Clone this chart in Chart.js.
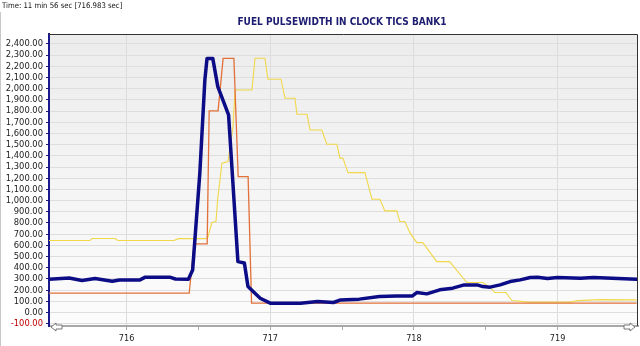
<!DOCTYPE html>
<html>
<head>
<meta charset="utf-8">
<script src="https://cdn.jsdelivr.net/npm/chart.js@4"></script>
<style>
    html, body { margin: 0; padding: 0; background: #fff; }
    #wrap { position: relative; width: 640px; height: 346px; overflow: hidden; }
    #timeLabel {
        position: absolute; left: 2px; top: 1px;
        font: 7.7px "DejaVu Sans Condensed", "DejaVu Sans", sans-serif; color: #111;
    }
    #title {
        position: absolute; left: 0; width: 684px; top: 16px; text-align: center;
        font: bold 10px "DejaVu Sans Condensed", "DejaVu Sans", sans-serif; color: #1c1c70;
    }
    #edge { position: absolute; left: 0; top: 12px; width: 1px; height: 334px; background: #c8c8c8; }
    canvas { position: absolute; left: 0; top: 0; }
</style>
</head>
<body>
<div id="wrap">
    <canvas id="chartFuel" width="640" height="346"></canvas>
    <div id="timeLabel">Time: 11 min 56 sec [716.983 sec]</div>
    <div id="title">FUEL PULSEWIDTH IN CLOCK TICS BANK1</div>
    <div id="edge"></div>
</div>
<script>
// Tempo (s) e valores
const navyTime = [715.46, 715.60, 715.69, 715.78, 715.90, 715.95, 716.09, 716.13, 716.30, 716.34, 716.43,
    716.46, 716.51, 716.545, 716.56, 716.60, 716.635, 716.71, 716.775, 716.82, 716.845, 716.93, 717.00,
    717.21, 717.33, 717.44, 717.49, 717.62, 717.76, 717.88, 717.99, 718.02, 718.09, 718.18, 718.27, 718.35,
    718.44, 718.48, 718.53, 718.60, 718.67, 718.74, 718.81, 718.86, 718.93, 719.00, 719.16, 719.25, 719.38, 719.55];
const navyValues = [298, 308, 286, 304, 280, 290, 290, 316, 316, 300, 298,
    381, 1247, 2078, 2270, 2270, 2018, 1765, 455, 443, 232, 128, 84,
    84, 98, 90, 113, 120, 143, 149, 149, 179, 167, 203, 218, 247,
    247, 232, 227, 247, 277, 292, 313, 316, 304, 313, 307, 313, 307, 298];

const orangeTime = [715.46, 716.436, 716.47, 716.561, 716.575, 716.637, 716.672, 716.747, 716.777, 716.846, 716.87, 719.55];
const orangeValues = [173, 173, 613, 613, 1801, 1801, 2270, 2270, 1214, 1214, 85, 85];

const yellowTime = [715.46, 715.745, 715.76, 715.919, 715.94, 716.33, 716.36, 716.55, 716.566, 716.594, 716.622,
    716.636, 716.664, 716.706, 716.741, 716.755, 716.873, 716.894, 716.963, 716.984, 717.075, 717.103,
    717.172, 717.186, 717.256, 717.277, 717.359, 717.394, 717.464, 717.485, 717.506, 717.541, 717.659,
    717.708, 717.763, 717.798, 717.881, 717.902, 717.937, 717.972, 718.020, 718.062, 718.159, 718.249,
    718.368, 718.480, 718.529, 718.564, 718.640, 718.682, 718.80, 719.09, 719.14, 719.30, 719.55];
const yellowValues = [643, 643, 661, 661, 643, 643, 660, 660, 673, 804, 813,
    1036, 1334, 1348, 1661, 1988, 1988, 2271, 2271, 2084, 2084, 1914,
    1914, 1771, 1771, 1631, 1631, 1503, 1503, 1379, 1379, 1250, 1250,
    1012, 1012, 908, 908, 813, 813, 714, 625, 625, 455, 455,
    268, 268, 227, 179, 179, 107, 93, 93, 107, 116, 113];

// Limites dos eixos
const xMin = 715.46, xMax = 719.56;
const yMin = -120, yMax = 2488;
const xTickLabels = [716, 717, 718, 719];

function toPoints(t, v) {
    return t.map((x, i) => ({ x: x, y: v[i] }));
}

// Fundo degradê, borda e setas da barra inferior
const framePlugin = {
    id: 'frame',
    beforeDraw(chart) {
        const { ctx, chartArea: a } = chart;
        const g = ctx.createLinearGradient(0, a.top, 0, a.bottom);
        g.addColorStop(0, '#ececec');
        g.addColorStop(1, '#fcfcfc');
        ctx.save();
        ctx.fillStyle = g;
        ctx.fillRect(a.left, a.top, a.right - a.left, a.bottom - a.top);
        ctx.restore();
    },
    afterDraw(chart) {
        const { ctx, chartArea: a } = chart;
        ctx.save();
        ctx.strokeStyle = '#333';
        ctx.lineWidth = 1;
        ctx.beginPath();
        ctx.moveTo(a.left, a.top + 0.5);
        ctx.lineTo(a.right - 0.5, a.top + 0.5);
        ctx.lineTo(a.right - 0.5, a.bottom);
        ctx.stroke();

        // setas
        const arrow = (x, dir) => {
            const y = a.bottom + 1;
            ctx.beginPath();
            ctx.moveTo(x, y);
            ctx.lineTo(x + dir * 5, y - 4);
            ctx.lineTo(x + dir * 5, y - 2);
            ctx.lineTo(x + dir * 11, y - 2);
            ctx.lineTo(x + dir * 11, y + 2);
            ctx.lineTo(x + dir * 5, y + 2);
            ctx.lineTo(x + dir * 5, y + 4);
            ctx.closePath();
            ctx.fillStyle = '#fff';
            ctx.fill();
            ctx.strokeStyle = '#777';
            ctx.stroke();
        };
        arrow(a.left + 2, 1);
        arrow(a.right - 3, -1);
        ctx.restore();
    }
};

const ctxFuel = document.getElementById('chartFuel');
new Chart(ctxFuel, {
    type: 'line',
    data: {
        datasets: [
            {
                label: 'Bank1 A',
                data: toPoints(navyTime, navyValues),
                borderColor: '#0c0c86',
                borderWidth: 3.5,
                borderJoinStyle: 'round',
                borderCapStyle: 'round'
            },
            {
                label: 'Bank1 B',
                data: toPoints(orangeTime, orangeValues),
                borderColor: '#e2703a',
                borderWidth: 1.3
            },
            {
                label: 'Bank1 C',
                data: toPoints(yellowTime, yellowValues),
                borderColor: '#f0d84a',
                borderWidth: 1.1
            }
        ]
    },
    options: {
        responsive: false,
        animation: false,
        events: [],
        elements: { point: { radius: 0 }, line: { tension: 0 } },
        layout: { padding: { top: 34, right: 2, left: 0, bottom: 0 } },
        plugins: {
            legend: { display: false },
            title: { display: false },
            tooltip: { enabled: false }
        },
        scales: {
            x: {
                type: 'linear',
                min: xMin,
                max: xMax,
                afterFit(scale) { scale.height = 20; },
                afterBuildTicks(scale) {
                    const ticks = [];
                    for (let v = 715.5; v <= 719.5; v += 0.5) ticks.push({ value: v });
                    scale.ticks = ticks;
                },
                grid: {
                    color: (c) => (c.tick && Number.isInteger(c.tick.value) ? '#dcdcdc' : 'rgba(0,0,0,0)'),
                    tickColor: '#aaa',
                    tickLength: 4
                },
                border: { color: '#a8a8a8', width: 2 },
                ticks: {
                    autoSkip: false,
                    maxRotation: 0,
                    padding: 3,
                    color: '#222',
                    font: { family: '"DejaVu Sans Condensed", "DejaVu Sans"', size: 9 },
                    callback: (v) => (xTickLabels.includes(v) ? String(v) : '')
                }
            },
            y: {
                min: yMin,
                max: yMax,
                afterFit(scale) { scale.width = 49; },
                afterBuildTicks(scale) {
                    const ticks = [];
                    for (let v = -100; v <= 2400; v += 100) ticks.push({ value: v });
                    scale.ticks = ticks;
                },
                grid: { color: '#dedede', tickColor: '#1a1a8a', tickLength: 3 },
                border: { color: '#1a1a8a', width: 2 },
                ticks: {
                    autoSkip: false,
                    padding: 3,
                    color: (c) => (c.tick && c.tick.value < 0 ? '#c00000' : '#222'),
                    font: { family: '"DejaVu Sans Condensed", "DejaVu Sans"', size: 9.3 },
                    callback: (v) => v.toLocaleString('en-US', { minimumFractionDigits: 2, maximumFractionDigits: 2 })
                }
            }
        }
    },
    plugins: [framePlugin]
});
</script>
</body>
</html>
